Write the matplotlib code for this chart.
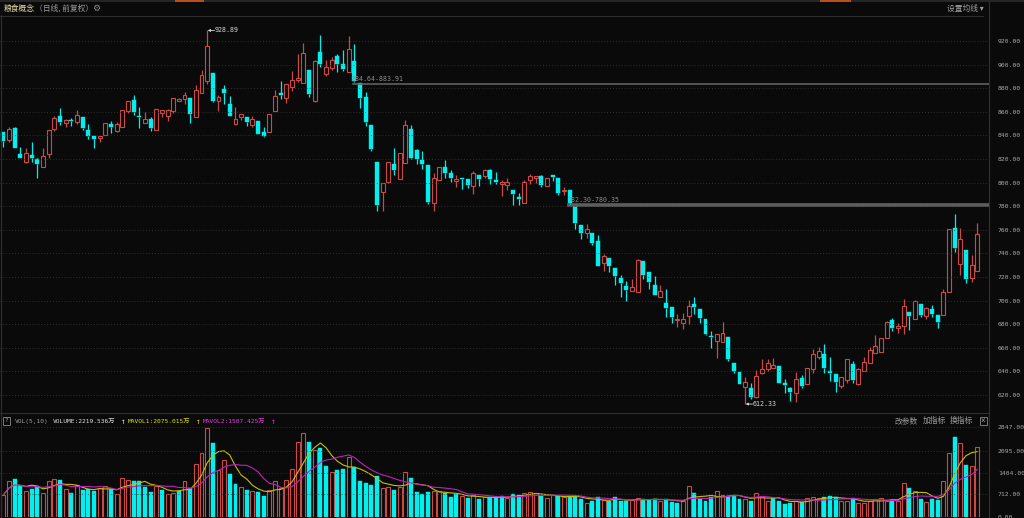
import numpy as np
import pandas as pd
import matplotlib
matplotlib.use('Agg')
import matplotlib.pyplot as plt
from matplotlib.transforms import ScaledTranslation

# daily candles: open, high, low, close
opens = [842.5, 836.1, 845.9, 824.0, 817.7, 823.7, 819.7, 813.0, 823.9, 845.1,
         856.6, 850.1, 853.0, 851.0, 855.8, 844.5, 839.7, 837.5, 840.6, 849.6,
         843.9, 847.3, 860.8, 869.6, 856.1, 850.7, 854.0, 844.5, 859.2, 856.6,
         860.8, 868.7, 870.4, 871.5, 855.2, 876.1, 886.2, 893.0, 869.3, 879.2,
         867.0, 849.9, 855.8, 855.8, 848.7, 852.1, 843.0, 843.0, 860.8, 876.1,
         871.8, 881.1, 886.8, 884.5, 895.2, 869.3, 911.0, 891.8, 897.5, 907.0,
         900.8, 893.8, 903.1, 884.0, 872.1, 848.7, 817.7, 792.4, 800.8, 815.8,
         802.8, 816.9, 845.1, 827.3, 818.9, 814.6, 782.8, 802.5, 813.2, 808.5,
         801.4, 804.2, 802.8, 797.2, 806.2, 805.6, 811.0, 802.5, 798.6, 798.3,
         794.1, 787.9, 782.8, 802.0, 804.2, 805.4, 797.2, 806.8, 804.2, 792.7,
         793.5, 780.8, 764.0, 757.5, 757.5, 750.4, 731.8, 736.1, 727.6, 719.2,
         712.1, 707.9, 707.3, 733.2, 724.2, 713.0, 703.1, 698.3, 694.6, 683.4,
         680.6, 687.0, 697.5, 692.7, 684.2, 669.9, 665.9, 665.1, 669.3, 647.3,
         639.2, 626.5, 625.6, 618.0, 638.3, 642.3, 642.5, 644.5, 629.9, 625.6,
         622.0, 634.0, 629.3, 642.0, 651.8, 654.6, 640.6, 637.8, 627.6, 632.7,
         645.9, 629.3, 640.6, 646.8, 655.8, 656.6, 668.4, 683.9, 677.2, 678.3,
         690.4, 684.8, 697.5, 686.8, 693.2, 687.6, 688.2, 707.3, 761.4, 731.3,
         743.1, 719.4, 725.1]
highs = [842.5, 846.8, 847.3, 830.4, 829.0, 834.0, 820.5, 829.0, 844.5, 856.0,
         863.0, 854.0, 855.0, 861.4, 855.8, 849.3, 839.7, 839.2, 850.7, 851.8,
         851.5, 861.4, 869.0, 873.8, 864.2, 860.0, 855.8, 862.0, 861.4, 862.0,
         871.3, 871.8, 876.9, 871.5, 882.3, 895.2, 928.89, 893.0, 874.0, 882.5,
         873.2, 863.7, 858.0, 855.8, 856.3, 852.1, 846.8, 857.8, 878.3, 886.2,
         883.9, 894.4, 908.7, 918.6, 895.2, 904.2, 925.4, 904.2, 906.5, 909.3,
         912.0, 924.2, 917.2, 884.0, 876.9, 848.7, 817.7, 799.4, 817.7, 829.0,
         825.4, 852.7, 849.0, 828.7, 826.5, 814.6, 808.2, 813.2, 819.4, 810.4,
         806.8, 804.2, 802.8, 809.6, 806.2, 811.8, 811.8, 809.0, 802.5, 804.0,
         794.1, 791.3, 802.0, 807.6, 805.6, 806.2, 804.2, 806.8, 804.2, 796.3,
         793.5, 780.8, 764.0, 764.8, 757.5, 755.5, 739.7, 736.1, 727.6, 721.4,
         716.3, 718.6, 735.5, 733.2, 724.2, 720.6, 713.5, 710.1, 694.6, 689.0,
         689.9, 700.3, 703.1, 692.7, 684.2, 674.4, 672.1, 682.0, 669.3, 647.3,
         639.2, 634.9, 629.9, 641.1, 650.1, 650.4, 651.0, 644.5, 633.5, 627.0,
         639.7, 636.9, 643.1, 658.9, 660.8, 663.1, 652.4, 637.8, 634.9, 650.1,
         648.7, 643.1, 652.4, 660.8, 670.7, 667.9, 682.5, 685.3, 681.1, 701.1,
         690.4, 700.3, 697.5, 694.6, 696.0, 687.6, 710.1, 760.3, 773.5, 761.4,
         743.1, 738.3, 765.6]
lows = [830.4, 834.7, 829.0, 820.5, 816.9, 817.7, 804.2, 813.0, 821.1, 843.7,
        849.0, 846.8, 848.0, 850.0, 844.5, 836.9, 829.6, 834.6, 840.0, 841.7,
        843.0, 847.3, 858.6, 857.2, 846.0, 850.7, 843.7, 844.5, 855.8, 852.0,
        859.2, 868.7, 867.0, 850.7, 855.2, 876.0, 883.4, 868.5, 860.8, 867.0,
        856.3, 848.7, 853.0, 847.9, 847.3, 840.8, 838.3, 843.0, 860.8, 871.0,
        867.6, 877.7, 885.4, 884.5, 872.7, 868.5, 898.0, 890.4, 895.2, 893.8,
        894.6, 893.8, 884.8, 863.4, 847.9, 827.0, 776.3, 775.5, 800.0, 806.5,
        802.8, 816.9, 819.7, 816.1, 811.3, 782.2, 776.0, 802.5, 804.2, 800.6,
        796.3, 794.4, 795.5, 790.7, 797.2, 804.2, 799.2, 799.2, 788.4, 793.5,
        780.8, 780.8, 782.8, 798.6, 800.0, 796.3, 797.2, 801.4, 789.3, 789.3,
        782.2, 760.6, 751.8, 752.7, 747.0, 729.3, 724.8, 724.2, 713.0, 703.1,
        699.7, 707.9, 707.3, 718.0, 709.6, 704.5, 703.1, 686.2, 681.1, 677.7,
        675.8, 680.0, 689.0, 681.4, 670.7, 660.0, 651.5, 665.1, 649.0, 638.3,
        629.3, 612.33, 616.6, 617.2, 637.8, 640.6, 642.5, 630.4, 621.4, 614.9,
        614.4, 625.6, 629.3, 638.9, 650.1, 638.3, 631.8, 622.8, 625.6, 629.9,
        630.4, 628.4, 640.6, 646.8, 655.8, 656.6, 668.4, 674.4, 672.7, 671.5,
        675.5, 684.0, 686.2, 684.0, 686.2, 676.9, 688.2, 707.3, 741.1, 721.4,
        714.9, 715.8, 725.1]
closes = [835.5, 845.1, 829.6, 820.6, 824.8, 820.8, 815.5, 822.8, 844.5, 854.6,
          851.0, 853.0, 852.0, 857.2, 846.5, 839.7, 836.6, 839.2, 850.1, 846.8,
          849.6, 861.4, 869.0, 859.7, 855.5, 853.5, 846.0, 862.0, 861.4, 861.4,
          871.3, 871.0, 874.6, 858.0, 878.3, 891.0, 915.8, 869.3, 872.7, 875.5,
          856.3, 853.5, 858.0, 851.5, 853.8, 840.8, 839.4, 857.8, 873.5, 874.4,
          883.9, 887.3, 888.5, 910.1, 875.0, 903.1, 900.3, 898.0, 904.2, 900.8,
          896.6, 913.0, 886.2, 871.8, 851.5, 828.4, 781.0, 799.4, 817.2, 810.7,
          825.4, 849.0, 821.1, 820.3, 816.1, 783.7, 804.2, 813.2, 808.2, 803.9,
          802.8, 803.1, 797.7, 808.5, 802.8, 811.0, 802.8, 800.8, 800.3, 800.3,
          790.7, 786.2, 800.3, 805.4, 805.6, 797.7, 804.2, 804.8, 791.5, 794.1,
          782.8, 765.9, 757.5, 760.3, 749.0, 729.3, 737.5, 729.0, 720.6, 715.0,
          709.3, 711.5, 734.6, 721.4, 715.8, 704.5, 707.9, 693.8, 686.2, 684.2,
          684.2, 695.8, 694.6, 685.6, 672.1, 668.8, 672.1, 672.7, 650.4, 640.3,
          629.3, 631.3, 618.6, 636.3, 641.7, 647.0, 645.3, 630.4, 628.2, 622.8,
          633.5, 627.9, 642.5, 654.4, 657.2, 643.1, 638.9, 631.3, 634.9, 650.1,
          632.7, 642.0, 647.6, 658.0, 661.7, 667.9, 682.0, 676.9, 678.6, 695.5,
          686.8, 699.4, 687.6, 694.1, 689.0, 682.0, 707.3, 760.3, 744.8, 751.8,
          718.6, 730.4, 756.6]
# volume, unit 万
vols = [690, 1136, 1200, 977, 817, 892, 987, 764, 1136, 1189,
        1178, 881, 754, 1008, 860, 881, 817, 902, 966, 881,
        711, 1221, 1168, 1146, 1136, 955, 775, 977, 849, 722,
        764, 817, 1136, 902, 1677, 2038, 2813, 2335, 1500, 1800,
        1359, 1040, 934, 849, 817, 796, 673, 849, 1136, 900,
        1168, 1507, 2368, 2654, 2388, 2123, 2197, 1613, 1412, 1486,
        1529, 1890, 1571, 1136, 1062, 998, 1295, 902, 934, 849,
        934, 1412, 1231, 786, 722, 786, 817, 828, 743, 616,
        722, 658, 584, 690, 563, 616, 616, 616, 658, 594,
        722, 700, 743, 775, 743, 658, 584, 679, 658, 616,
        658, 658, 552, 446, 510, 616, 531, 510, 616, 488,
        510, 531, 594, 552, 531, 573, 510, 563, 456, 446,
        499, 966, 743, 563, 499, 616, 807, 679, 658, 658,
        563, 552, 499, 743, 658, 510, 584, 499, 403, 435,
        510, 478, 594, 616, 594, 616, 648, 616, 510, 510,
        594, 425, 425, 510, 563, 584, 510, 531, 510, 1062,
        924, 817, 563, 456, 552, 531, 1136, 2038, 2540, 2350,
        1650, 1616, 2219.536]
price_ticks = [620, 640, 660, 680, 700, 720, 740, 760, 780, 800, 820, 840, 860, 880, 900, 920]
vol_ticks = [0, 712, 1404, 2095, 2847]
levels = [(884.64, 883.91), (782.30, 780.35)]

bg = '#0a0a0a'
red = '#c94a46'
cyan = '#00f0f0'
txt = '#a8a8a8'
mono = ['DejaVu Sans Mono', 'Noto Sans CJK SC']
cjk = ['Noto Sans CJK SC', 'DejaVu Sans']
plt.rcParams['font.family'] = mono

o = np.array(opens); h = np.array(highs); l = np.array(lows); c = np.array(closes)
v = np.array(vols)
n = len(o)
x = np.arange(n)
up = c >= o
prev = np.concatenate([[c[0]], c[:-1]])
vup = c >= prev
ma5 = pd.Series(v).rolling(5, min_periods=1).mean()
ma10 = pd.Series(v).rolling(10, min_periods=1).mean()

W, H = 1024, 518
fig = plt.figure(figsize=(W / 100, H / 100), dpi=100, facecolor=bg)


def box(x0, y0, x1, y1):
    return [x0 / W, 1 - y1 / H, (x1 - x0) / W, (y1 - y0) / H]


step = 5.663
xl = (-3.3 / step, (989 - 3.3) / step)

ax = fig.add_axes(box(0, 17, 989, 412), facecolor=bg)
axv = fig.add_axes(box(0, 425, 989, 516.7), facecolor=bg)

# candles
bw = 0.7
lo_body = np.minimum(o, c)
hi_body = np.maximum(o, c)
cols = np.where(up, red, cyan)
ax.vlines(x, l, lo_body, colors=cols, lw=0.9)
ax.vlines(x, hi_body, h, colors=cols, lw=0.9)
hgt = np.maximum(hi_body - lo_body, 0.35)
ax.bar(x[up], hgt[up], bw, bottom=lo_body[up], facecolor=bg, edgecolor=red, lw=0.8)
ax.bar(x[~up], hgt[~up], bw, bottom=lo_body[~up], facecolor=cyan, edgecolor=cyan, lw=0.3)

# level lines
for (a, b), start in zip(levels, [62, 100]):
    ax.axhspan(b, a, xmin=(start - 0.5 - xl[0]) / (xl[1] - xl[0]), xmax=1,
               facecolor='#5c5c5c', edgecolor='#6a6a6a', lw=0.4)
    ax.text(start - 0.45, a + 0.6, '%.2f-%.2f' % (a, b), color='#8c8c8c', fontsize=4.8,
            va='bottom', ha='left')

# high / low marks
ih = int(np.argmax(h))
il = int(np.argmin(l))
for i, p in [(ih, h[ih]), (il, l[il])]:
    ax.annotate('', xy=(i + 0.1, p), xytext=(i + 1.3, p),
                arrowprops=dict(arrowstyle='-|>', color='#d8d8d8', lw=0.6,
                                mutation_scale=3.5, shrinkA=0, shrinkB=0))
    ax.text(i + 1.35, p, '%.2f' % p, color='#d8d8d8', fontsize=4.8, va='center', ha='left')

ax.set_xlim(*xl)
ax.set_ylim(605.6, 940.3)
ax.set_yticks(price_ticks)
ax.set_yticklabels(['%.2f' % t for t in price_ticks])
ax.yaxis.tick_right()
ax.tick_params(axis='y', length=0, pad=6.3, labelsize=4.6, labelcolor=txt)
ax.set_xticks([])
ax.grid(axis='y', color='#3c3c3c', ls=(0, (1, 2.5)), lw=0.6)
for s in ax.spines.values():
    s.set_visible(False)

# volume
axv.bar(x[vup], v[vup], bw, facecolor=bg, edgecolor=red, lw=0.8)
axv.bar(x[~vup], v[~vup], bw, facecolor=cyan, edgecolor=cyan, lw=0.3)
axv.plot(x, ma5, color='#c8c000', lw=0.8)
axv.plot(x, ma10, color='#c020c0', lw=0.8)
axv.set_xlim(*xl)
axv.set_ylim(0, 2920)
axv.set_yticks(vol_ticks)
axv.set_yticklabels(['%.2f' % t for t in vol_ticks])
lab0 = axv.get_yticklabels()[0]
lab0.set_transform(lab0.get_transform() + ScaledTranslation(0, 4.5 / 72, fig.dpi_scale_trans))
axv.yaxis.tick_right()
axv.tick_params(axis='y', length=0, pad=6.3, labelsize=4.6, labelcolor=txt)
axv.set_xticks([])
for t in vol_ticks[1:]:
    axv.axhline(t, color='#3c3c3c', ls=(0, (1, 2.5)), lw=0.6)
for s in axv.spines.values():
    s.set_visible(False)

# frame lines and header texts
ov = fig.add_axes([0, 0, 1, 1], facecolor='none')
ov.set_xlim(0, W)
ov.set_ylim(H, 0)
ov.axis('off')
ov.add_patch(plt.Rectangle((0, 0), W, 2, color='#262626', lw=0))
ov.add_patch(plt.Rectangle((175, 0), 29, 2, color='#b5501e', lw=0))
ov.add_patch(plt.Rectangle((820, 0), 31, 2, color='#b5501e', lw=0))
ov.plot([0, 983], [15.5, 15.5], color='#2c2c2c', lw=0.8)
ov.plot([989, 989], [2, H], color='#303030', lw=0.8)
ov.plot([0, 989], [413, 413], color='#303030', lw=0.8)
ov.plot([0.5, 0.5], [15, H], color='#303030', lw=0.8)

ov.text(4, 8.5, '粮食概念', family=cjk, fontsize=5.6, color='#e6dca8', va='center')
ov.text(35, 8.5, '（日线, 前复权）', family=cjk, fontsize=5.6, color='#9a9a9a', va='center')
ov.text(92, 8.5, '\u2699', family=['DejaVu Sans'], fontsize=6.5, color='#8a8a8a', va='center')
ov.text(947, 8.5, '设置均线 ▾', family=cjk, fontsize=5.6, color='#a0a0a0', va='center')

ov.add_patch(plt.Rectangle((3, 417), 7, 8, facecolor='none', edgecolor='#8a8a8a', lw=0.6))
ov.text(6.5, 421, '?', fontsize=4.5, color='#9a9a9a', va='center', ha='center')
hy = 421
fs = 4.5
ov.text(15, hy, 'VOL(5,10)', fontsize=fs, color='#a0a0a0', va='center')
ov.text(53, hy, 'VOLUME:%.3f万' % v[-1], fontsize=fs, color='#e0e0e0', va='center')
ov.text(120.5, hy, '\u2191', fontsize=5.5, color='#e0e0e0', va='center')
ov.text(128, hy, 'MAVOL1:%.3f万' % 2075.015, fontsize=fs, color='#e0e000', va='center')
ov.text(195.5, hy, '\u2191', fontsize=5.5, color='#e0e000', va='center')
ov.text(203, hy, 'MAVOL2:%.3f万' % 1507.425, fontsize=fs, color='#e040e0', va='center')
ov.text(270.5, hy, '\u2191', fontsize=5.5, color='#e040e0', va='center')
ov.text(895, hy, '改参数', family=cjk, fontsize=5.6, color='#9a9a9a', va='center')
ov.text(923, hy, '加指标', family=cjk, fontsize=5.6, color='#9a9a9a', va='center')
ov.text(950, hy, '换指标', family=cjk, fontsize=5.6, color='#9a9a9a', va='center')
ov.add_patch(plt.Rectangle((979.5, 417), 7, 8, facecolor='none', edgecolor='#8a8a8a', lw=0.6))
ov.text(983, 421, '×', fontsize=5.5, color='#9a9a9a', va='center', ha='center')

fig.savefig('out.png', dpi=100, facecolor=bg)
